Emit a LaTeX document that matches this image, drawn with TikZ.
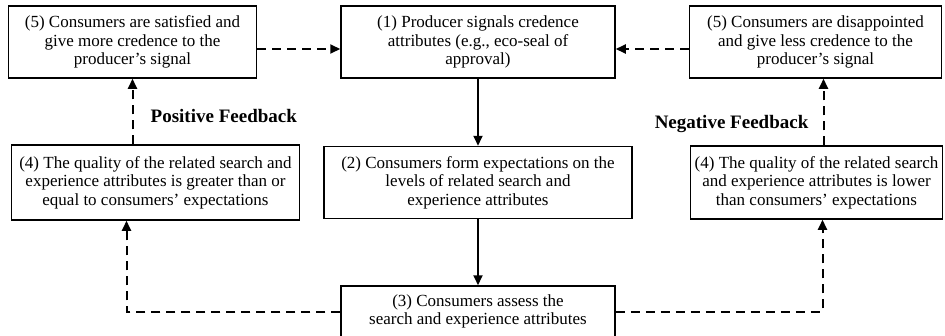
\documentclass[tikz,border=0pt]{standalone}
\usepackage{fontspec}
\setmainfont{Liberation Serif}
\usetikzlibrary{positioning,arrows.meta}

\begin{document}
\begin{tikzpicture}
  \useasboundingbox (0,0) rectangle (945pt,-335pt);
  \begin{scope}[every node/.style={
      draw,
      line width=1.5pt,
      align=center,
      inner sep=1pt,
      font=\fontsize{17}{18.5}\selectfont,
    }]
    \coordinate(stage) at(478pt,-42pt);
    \node[minimum width=274pt,minimum height=72pt] (stage1) at (stage)
    {(1) Producer signals credence\\attributes (e.g., eco-seal of\\approval)};
    \node[below=67pt of stage1,minimum width=308pt,minimum height=72pt] (stage2)
    {(2) Consumers form expectations on the\\levels of related search and\\experience attributes};
    \node[below=66pt of stage2,minimum width=274pt,minimum height=51pt] (stage3)
    {(3) Consumers assess the\\search and experience attributes};
    \node[left=83pt of stage1,minimum width=248pt,minimum height=72pt] (stage5p)
    {(5) Consumers are satisfied and\\give more credence to the\\producer's signal};
    \node[right=73pt of stage1,minimum width=252pt,minimum height=72pt] (stage5n)
    {(5) Consumers are disappointed\\and give less credence to the\\producer's signal};
    \node[left=23pt of stage2,minimum width=288pt,minimum height=75pt] (stage4p)
    {(4) The quality of the related search and\\experience attributes is greater than or\\equal to consumers' expectations};
    \node[right=57pt of stage2,minimum width=252pt,minimum height=73pt] (stage4n)
    {(4) The quality of the related search\\and experience attributes is lower\\than consumers' expectations};
  \end{scope}
  \begin{scope}[
    flow/.style={line width=2pt,-{Triangle[length=10pt,width=9pt]}},
    fb/.style={flow,dash pattern=on 9pt off 6pt},
    fblabel/.style={font=\fontsize{19}{22}\selectfont\bfseries,inner sep=0pt},
    ]
    \draw[flow] (stage1.south) -- (stage1.south |- stage2.north);
    \draw[flow] (stage2.south -| stage1.south) -- (stage1.south |- stage3.north);
    \draw[fb] ([yshift=-7pt]stage5p.east) -- ([yshift=-7pt]stage5p.east -| stage1.west);
    \draw[fb] ([yshift=-7pt]stage5n.west) -- ([yshift=-7pt]stage5n.west -| stage1.east);
    \draw[fb] (stage5p.south |- stage4p.north) -- coordinate (posfb) (stage5p.south);
    \draw[fb] ([xshift=8pt]stage5n.south |- stage4n.north) -- coordinate (negfb) ([xshift=8pt]stage5n.south);
    \draw[fb] (stage3.west) -| ([xshift=-29pt]stage4p.south);
    \draw[fb] (stage3.east) -| ([xshift=6pt]stage4n.south);
    \node[fblabel,right=18pt of posfb,yshift=-4pt] (posfbtext) {Positive Feedback};
    \node[fblabel,left=15pt of negfb,yshift=-12pt] (negfbtext) {Negative Feedback};
  \end{scope}
\end{tikzpicture}
\end{document}
